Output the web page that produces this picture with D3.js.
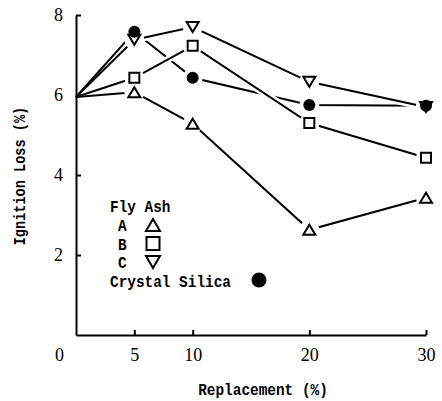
<!DOCTYPE html>
<html>
<head>
<meta charset="utf-8">
<script src="https://cdn.jsdelivr.net/npm/d3@7"></script>
<style>
  body { margin: 0; background: #fff; }
  svg { display: block; }
</style>
</head>
<body>
<svg id="chart" width="442" height="401"></svg>
<script>
// Replacement level (%) on the x axis
const replacement = [0, 5, 10, 20, 30];

// Ignition loss (%) for each admixture
const flyAshA = [5.95, 6.07, 5.28, 2.63, 3.43];
const flyAshB = [5.95, 6.43, 7.23, 5.30, 4.43];
const flyAshC = [5.95, 7.38, 7.70, 6.33, 5.70];
const crystalSilica = [5.95, 7.58, 6.43, 5.75, 5.73];

const xTickValues = [0, 5, 10, 20, 30];
const yTickValues = [2, 4, 6, 8];

const legendTitle = "Fly Ash";
const legendLetters = ["A", "B", "C"];
const legendSilica = "Crystal Silica";
const xTitle = "Replacement (%)";
const yTitle = "Ignition Loss (%)";

const svg = d3.select("#chart");
const x = d3.scaleLinear().domain([0, 30]).range([76, 426]);
const y = d3.scaleLinear().domain([0, 8]).range([335, 15]);

const monoFont = "'Liberation Mono', 'DejaVu Sans Mono', monospace";
const numFont = "'Liberation Serif', 'DejaVu Serif', serif";

// narrow monospace label
function label(parent, txt, tx, ty, anchor, rotate, sx) {
  const g = parent.append("g")
    .attr("transform", `translate(${tx},${ty})` + (rotate ? ` rotate(${rotate})` : "") + ` scale(${sx || 0.9},1)`);
  g.append("text")
    .attr("text-anchor", anchor || "start")
    .attr("font-family", monoFont)
    .attr("font-weight", "bold")
    .attr("font-size", 16)
    .attr("fill", "#000")
    .text(txt);
  return g;
}

// marker shapes
function markerPath(type, w, h) {
  if (type === "up") return `M${-w/2},${h/2}L${w/2},${h/2}L0,${-h/2}Z`;
  if (type === "down") return `M${-w/2},${-h/2}L${w/2},${-h/2}L0,${h/2}Z`;
  if (type === "square") return `M${-w/2},${-h/2}H${w/2}V${h/2}H${-w/2}Z`;
  return null;
}
function drawMarker(parent, type, cx, cy, big) {
  if (type === "circle") {
    parent.append("circle").attr("cx", cx).attr("cy", cy)
      .attr("r", big ? 7.5 : 6).attr("fill", "#000");
    return;
  }
  let w, h;
  if (type === "square") { w = big ? 13 : 10; h = w; }
  else { w = big ? 14 : 12; h = big ? 12 : 10; }
  parent.append("path")
    .attr("d", markerPath(type, w, h))
    .attr("transform", `translate(${cx},${cy})`)
    .attr("fill", "#fff").attr("stroke", "#000").attr("stroke-width", 2)
    .attr("stroke-linejoin", "miter");
}

const series = [
  { name: "Crystal Silica", values: crystalSilica, marker: "circle" },
  { name: "A", values: flyAshA, marker: "up" },
  { name: "C", values: flyAshC, marker: "down" },
  { name: "B", values: flyAshB, marker: "square" }
];

// axes
const yAxis = d3.axisLeft(y).tickValues(yTickValues)
  .tickSizeInner(-5).tickSizeOuter(0).tickPadding(13)
  .tickFormat(d3.format("d"));
const xAxis = d3.axisBottom(x).tickValues(xTickValues)
  .tickSizeInner(-5).tickSizeOuter(0).tickPadding(13)
  .tickFormat(d3.format("d"));

const gx = svg.append("g").attr("transform", `translate(0,${y(0)})`).call(xAxis);
const gy = svg.append("g").attr("transform", `translate(${x(0)},0)`).call(yAxis);
[gx, gy].forEach(g => {
  g.select(".domain").attr("stroke", "#000").attr("stroke-width", 2);
  g.selectAll(".tick line").attr("stroke", "#000").attr("stroke-width", 2);
  g.selectAll(".tick text").attr("font-family", numFont).attr("font-size", 18).attr("fill", "#000");
});
// origin label sits at the corner
gx.selectAll(".tick").filter(d => d === 0).select("line").remove();
gx.selectAll(".tick").filter(d => d === 0).select("text").attr("x", -17);

// lines
const line = d3.line().x(d => x(d[0])).y(d => y(d[1]));
const plot = svg.append("g");
// segments leaving the common origin
series.forEach(s => {
  plot.append("path")
    .attr("d", line([[replacement[0], s.values[0]], [replacement[1], s.values[1]]]))
    .attr("fill", "none").attr("stroke", "#000").attr("stroke-width", 2);
});
// remaining segments, each with a white casing so crossings show a break
series.forEach(s => {
  const pts = replacement.map((r, i) => [r, s.values[i]]).slice(1);
  plot.append("path").attr("d", line(pts))
    .attr("fill", "none").attr("stroke", "#fff").attr("stroke-width", 7);
  plot.append("path").attr("d", line(pts))
    .attr("fill", "none").attr("stroke", "#000").attr("stroke-width", 2);
});

// markers: white halo first, then the symbol
const markerOrder = [series[1], series[3], series[2], series[0]];
markerOrder.forEach(s => {
  replacement.forEach((r, i) => {
    if (i === 0) return;
    plot.append("circle").attr("cx", x(r)).attr("cy", y(s.values[i]))
      .attr("r", 10).attr("fill", "#fff");
  });
});
markerOrder.forEach(s => {
  replacement.forEach((r, i) => {
    if (i === 0) return;
    drawMarker(plot, s.marker, x(r), y(s.values[i]), false);
  });
});

// legend
const lg = svg.append("g");
label(lg, legendTitle, 110, 212, "start");
const legendMarkers = ["up", "square", "down"];
const letterBase = [231, 249.5, 268];
legendLetters.forEach((t, i) => {
  label(lg, t, 118, letterBase[i], "start");
  drawMarker(lg, legendMarkers[i], 153, letterBase[i] - 6, true);
});
label(lg, legendSilica, 110, 286.5, "start");
drawMarker(lg, "circle", 259, 280, true);

// axis titles
label(svg, xTitle, 263, 395, "middle");
label(svg, yTitle, 25, 176, "middle", -90, 0.85);
</script>
</body>
</html>
